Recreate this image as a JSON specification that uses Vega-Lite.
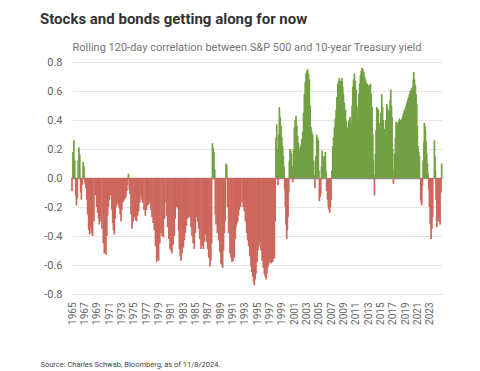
{
 "$schema": "https://vega.github.io/schema/vega-lite/v6.json",
 "width": 370, "height": 232,
 "autosize": "none",
 "padding": {"left": 72, "top": 62, "right": 38, "bottom": 77},
 "background": "white",
 "title": {"text": "Stocks and bonds getting along for now", "anchor": "start", "frame": "group", "dx": -32, "offset": 14, "font": "Roboto", "fontSize": 15, "fontWeight": "bold", "color": "#333333"},
 "config": {"view": {"stroke": null}},
 "data": {"values": [
{"year":1965.0,"corr":-0.09},{"year":1965.15,"corr":0.18},{"year":1965.3,"corr":0.26},{"year":1965.45,"corr":0.12},{"year":1965.6,"corr":-0.12},{"year":1965.72,"corr":-0.19},{"year":1965.86,"corr":-0.14},{"year":1966.0,"corr":0.12},{"year":1966.12,"corr":0.21},{"year":1966.26,"corr":0.16},{"year":1966.4,"corr":-0.10},{"year":1966.52,"corr":-0.15},{"year":1966.66,"corr":-0.05},{"year":1966.8,"corr":0.11},{"year":1966.95,"corr":0.08},{"year":1967.1,"corr":-0.04},{"year":1967.26,"corr":-0.07},{"year":1967.4,"corr":-0.15},{"year":1967.53,"corr":-0.25},{"year":1967.7,"corr":-0.36},{"year":1967.88,"corr":-0.39},{"year":1968.05,"corr":-0.35},{"year":1968.2,"corr":-0.38},{"year":1968.34,"corr":-0.40},{"year":1968.56,"corr":-0.30},{"year":1968.78,"corr":-0.12},{"year":1969.0,"corr":-0.20},{"year":1969.15,"corr":-0.24},{"year":1969.3,"corr":-0.28},{"year":1969.42,"corr":-0.32},{"year":1969.64,"corr":-0.30},{"year":1969.86,"corr":-0.35},{"year":1970.07,"corr":-0.45},{"year":1970.23,"corr":-0.52},{"year":1970.38,"corr":-0.50},{"year":1970.5,"corr":-0.53},{"year":1970.64,"corr":-0.40},{"year":1970.78,"corr":-0.26},{"year":1970.92,"corr":-0.20},{"year":1971.05,"corr":-0.15},{"year":1971.2,"corr":-0.12},{"year":1971.32,"corr":-0.09},{"year":1971.46,"corr":-0.22},{"year":1971.59,"corr":-0.31},{"year":1971.72,"corr":-0.36},{"year":1971.86,"corr":-0.39},{"year":1972.0,"corr":-0.28},{"year":1972.13,"corr":-0.20},{"year":1972.27,"corr":-0.18},{"year":1972.4,"corr":-0.16},{"year":1972.54,"corr":-0.19},{"year":1972.67,"corr":-0.21},{"year":1972.8,"corr":-0.25},{"year":1972.94,"corr":-0.30},{"year":1973.07,"corr":-0.22},{"year":1973.2,"corr":-0.17},{"year":1973.34,"corr":-0.16},{"year":1973.48,"corr":-0.15},{"year":1973.62,"corr":-0.14},{"year":1973.75,"corr":-0.13},{"year":1973.88,"corr":-0.09},{"year":1974.0,"corr":-0.05},{"year":1974.15,"corr":0.03},{"year":1974.28,"corr":-0.08},{"year":1974.4,"corr":-0.11},{"year":1974.56,"corr":-0.25},{"year":1974.72,"corr":-0.35},{"year":1974.9,"corr":-0.30},{"year":1975.1,"corr":-0.27},{"year":1975.3,"corr":-0.29},{"year":1975.47,"corr":-0.30},{"year":1975.63,"corr":-0.26},{"year":1975.8,"corr":-0.23},{"year":1976.0,"corr":-0.17},{"year":1976.18,"corr":-0.12},{"year":1976.32,"corr":-0.15},{"year":1976.45,"corr":-0.17},{"year":1976.66,"corr":-0.22},{"year":1976.88,"corr":-0.26},{"year":1977.07,"corr":-0.22},{"year":1977.26,"corr":-0.19},{"year":1977.45,"corr":-0.18},{"year":1977.63,"corr":-0.17},{"year":1977.8,"corr":-0.22},{"year":1977.96,"corr":-0.27},{"year":1978.15,"corr":-0.31},{"year":1978.34,"corr":-0.36},{"year":1978.53,"corr":-0.47},{"year":1978.72,"corr":-0.58},{"year":1978.88,"corr":-0.56},{"year":1979.04,"corr":-0.57},{"year":1979.23,"corr":-0.45},{"year":1979.42,"corr":-0.38},{"year":1979.6,"corr":-0.40},{"year":1979.8,"corr":-0.41},{"year":1980.0,"corr":-0.28},{"year":1980.23,"corr":-0.17},{"year":1980.36,"corr":-0.26},{"year":1980.5,"corr":-0.34},{"year":1980.7,"corr":-0.42},{"year":1980.88,"corr":-0.49},{"year":1981.04,"corr":-0.50},{"year":1981.2,"corr":-0.52},{"year":1981.4,"corr":-0.46},{"year":1981.58,"corr":-0.40},{"year":1981.72,"corr":-0.28},{"year":1981.85,"corr":-0.19},{"year":1982.0,"corr":-0.20},{"year":1982.13,"corr":-0.21},{"year":1982.27,"corr":-0.36},{"year":1982.4,"corr":-0.49},{"year":1982.53,"corr":-0.54},{"year":1982.66,"corr":-0.57},{"year":1982.85,"corr":-0.52},{"year":1983.04,"corr":-0.48},{"year":1983.2,"corr":-0.43},{"year":1983.36,"corr":-0.38},{"year":1983.55,"corr":-0.33},{"year":1983.74,"corr":-0.28},{"year":1983.93,"corr":-0.27},{"year":1984.12,"corr":-0.27},{"year":1984.28,"corr":-0.34},{"year":1984.44,"corr":-0.40},{"year":1984.62,"corr":-0.45},{"year":1984.82,"corr":-0.49},{"year":1985.0,"corr":-0.38},{"year":1985.2,"corr":-0.27},{"year":1985.36,"corr":-0.30},{"year":1985.52,"corr":-0.35},{"year":1985.7,"corr":-0.42},{"year":1985.9,"corr":-0.49},{"year":1986.1,"corr":-0.47},{"year":1986.28,"corr":-0.49},{"year":1986.44,"corr":-0.44},{"year":1986.6,"corr":-0.39},{"year":1986.8,"corr":-0.44},{"year":1986.98,"corr":-0.49},{"year":1987.16,"corr":-0.55},{"year":1987.36,"corr":-0.61},{"year":1987.5,"corr":-0.57},{"year":1987.62,"corr":-0.45},{"year":1987.76,"corr":0.24},{"year":1987.88,"corr":0.21},{"year":1988.0,"corr":0.18},{"year":1988.12,"corr":0.06},{"year":1988.22,"corr":-0.25},{"year":1988.34,"corr":-0.32},{"year":1988.55,"corr":-0.38},{"year":1988.77,"corr":-0.43},{"year":1988.95,"corr":-0.51},{"year":1989.14,"corr":-0.59},{"year":1989.28,"corr":-0.60},{"year":1989.41,"corr":-0.62},{"year":1989.55,"corr":-0.50},{"year":1989.68,"corr":-0.38},{"year":1989.82,"corr":-0.30},{"year":1989.95,"corr":0.10},{"year":1990.08,"corr":0.09},{"year":1990.2,"corr":-0.20},{"year":1990.38,"corr":-0.38},{"year":1990.6,"corr":-0.52},{"year":1990.76,"corr":-0.55},{"year":1990.92,"corr":-0.58},{"year":1991.1,"corr":-0.57},{"year":1991.3,"corr":-0.55},{"year":1991.45,"corr":-0.42},{"year":1991.57,"corr":-0.34},{"year":1991.7,"corr":-0.32},{"year":1991.84,"corr":-0.30},{"year":1991.98,"corr":-0.26},{"year":1992.11,"corr":-0.22},{"year":1992.3,"corr":-0.20},{"year":1992.55,"corr":-0.17},{"year":1992.75,"corr":-0.20},{"year":1992.92,"corr":-0.23},{"year":1993.1,"corr":-0.30},{"year":1993.3,"corr":-0.38},{"year":1993.46,"corr":-0.43},{"year":1993.63,"corr":-0.47},{"year":1993.82,"corr":-0.54},{"year":1994.0,"corr":-0.61},{"year":1994.14,"corr":-0.65},{"year":1994.28,"corr":-0.68},{"year":1994.42,"corr":-0.72},{"year":1994.54,"corr":-0.74},{"year":1994.68,"corr":-0.70},{"year":1994.81,"corr":-0.66},{"year":1995.0,"corr":-0.58},{"year":1995.15,"corr":-0.50},{"year":1995.3,"corr":-0.47},{"year":1995.45,"corr":-0.44},{"year":1995.62,"corr":-0.50},{"year":1995.8,"corr":-0.57},{"year":1996.0,"corr":-0.62},{"year":1996.17,"corr":-0.66},{"year":1996.3,"corr":-0.68},{"year":1996.44,"corr":-0.70},{"year":1996.58,"corr":-0.66},{"year":1996.71,"corr":-0.62},{"year":1996.85,"corr":-0.60},{"year":1996.98,"corr":-0.57},{"year":1997.1,"corr":-0.58},{"year":1997.25,"corr":-0.59},{"year":1997.38,"corr":-0.58},{"year":1997.52,"corr":-0.58},{"year":1997.66,"corr":-0.56},{"year":1997.79,"corr":-0.55},{"year":1997.92,"corr":-0.30},{"year":1998.05,"corr":0.28},{"year":1998.17,"corr":0.37},{"year":1998.28,"corr":0.20},{"year":1998.38,"corr":-0.05},{"year":1998.5,"corr":0.30},{"year":1998.6,"corr":0.49},{"year":1998.74,"corr":0.42},{"year":1998.87,"corr":0.36},{"year":1999.0,"corr":0.28},{"year":1999.14,"corr":0.22},{"year":1999.25,"corr":0.15},{"year":1999.36,"corr":0.08},{"year":1999.46,"corr":-0.08},{"year":1999.57,"corr":-0.20},{"year":1999.68,"corr":-0.32},{"year":1999.79,"corr":-0.42},{"year":1999.9,"corr":-0.36},{"year":2000.0,"corr":-0.27},{"year":2000.12,"corr":-0.10},{"year":2000.22,"corr":0.12},{"year":2000.33,"corr":0.20},{"year":2000.44,"corr":0.19},{"year":2000.55,"corr":0.17},{"year":2000.66,"corr":0.08},{"year":2000.76,"corr":-0.03},{"year":2000.9,"corr":0.20},{"year":2001.03,"corr":0.35},{"year":2001.16,"corr":0.40},{"year":2001.3,"corr":0.43},{"year":2001.44,"corr":0.36},{"year":2001.57,"corr":0.29},{"year":2001.7,"corr":0.24},{"year":2001.84,"corr":0.19},{"year":2001.98,"corr":0.21},{"year":2002.11,"corr":0.23},{"year":2002.24,"corr":0.27},{"year":2002.38,"corr":0.32},{"year":2002.52,"corr":0.45},{"year":2002.65,"corr":0.58},{"year":2002.78,"corr":0.66},{"year":2002.92,"corr":0.72},{"year":2003.05,"corr":0.74},{"year":2003.19,"corr":0.75},{"year":2003.32,"corr":0.72},{"year":2003.46,"corr":0.68},{"year":2003.6,"corr":0.50},{"year":2003.73,"corr":0.35},{"year":2003.86,"corr":0.32},{"year":2004.0,"corr":0.30},{"year":2004.16,"corr":0.12},{"year":2004.27,"corr":0.02},{"year":2004.38,"corr":-0.07},{"year":2004.5,"corr":0.15},{"year":2004.65,"corr":0.30},{"year":2004.78,"corr":0.28},{"year":2004.92,"corr":0.26},{"year":2005.0,"corr":0.05},{"year":2005.08,"corr":-0.16},{"year":2005.2,"corr":-0.13},{"year":2005.3,"corr":-0.11},{"year":2005.42,"corr":0.08},{"year":2005.52,"corr":0.19},{"year":2005.65,"corr":0.15},{"year":2005.79,"corr":0.12},{"year":2005.92,"corr":0.15},{"year":2006.06,"corr":0.18},{"year":2006.16,"corr":0.05},{"year":2006.27,"corr":-0.09},{"year":2006.4,"corr":-0.15},{"year":2006.54,"corr":-0.20},{"year":2006.65,"corr":-0.22},{"year":2006.76,"corr":-0.24},{"year":2006.87,"corr":-0.20},{"year":2006.98,"corr":-0.15},{"year":2007.1,"corr":0.05},{"year":2007.25,"corr":0.22},{"year":2007.38,"corr":0.28},{"year":2007.52,"corr":0.35},{"year":2007.66,"corr":0.41},{"year":2007.79,"corr":0.47},{"year":2007.92,"corr":0.56},{"year":2008.06,"corr":0.65},{"year":2008.2,"corr":0.67},{"year":2008.33,"corr":0.69},{"year":2008.46,"corr":0.67},{"year":2008.6,"corr":0.65},{"year":2008.68,"corr":0.67},{"year":2008.76,"corr":0.69},{"year":2008.87,"corr":0.63},{"year":2008.98,"corr":0.58},{"year":2009.14,"corr":0.52},{"year":2009.3,"corr":0.47},{"year":2009.44,"corr":0.39},{"year":2009.57,"corr":0.31},{"year":2009.7,"corr":0.35},{"year":2009.84,"corr":0.39},{"year":2009.95,"corr":0.40},{"year":2010.05,"corr":0.42},{"year":2010.16,"corr":0.38},{"year":2010.27,"corr":0.35},{"year":2010.38,"corr":0.50},{"year":2010.49,"corr":0.63},{"year":2010.62,"corr":0.68},{"year":2010.76,"corr":0.72},{"year":2010.9,"corr":0.67},{"year":2011.03,"corr":0.61},{"year":2011.14,"corr":0.50},{"year":2011.24,"corr":0.38},{"year":2011.35,"corr":0.48},{"year":2011.46,"corr":0.58},{"year":2011.6,"corr":0.65},{"year":2011.73,"corr":0.71},{"year":2011.86,"corr":0.74},{"year":2012.0,"corr":0.76},{"year":2012.14,"corr":0.75},{"year":2012.27,"corr":0.73},{"year":2012.4,"corr":0.70},{"year":2012.54,"corr":0.68},{"year":2012.68,"corr":0.66},{"year":2012.81,"corr":0.65},{"year":2012.95,"corr":0.64},{"year":2013.08,"corr":0.63},{"year":2013.22,"corr":0.64},{"year":2013.35,"corr":0.65},{"year":2013.48,"corr":0.58},{"year":2013.62,"corr":0.49},{"year":2013.74,"corr":0.30},{"year":2013.84,"corr":0.12},{"year":2013.92,"corr":0.0},{"year":2014.0,"corr":-0.12},{"year":2014.08,"corr":0.02},{"year":2014.16,"corr":0.17},{"year":2014.27,"corr":0.33},{"year":2014.38,"corr":0.49},{"year":2014.52,"corr":0.48},{"year":2014.65,"corr":0.47},{"year":2014.78,"corr":0.38},{"year":2014.92,"corr":0.31},{"year":2015.05,"corr":0.45},{"year":2015.19,"corr":0.58},{"year":2015.32,"corr":0.49},{"year":2015.46,"corr":0.40},{"year":2015.6,"corr":0.34},{"year":2015.73,"corr":0.29},{"year":2015.86,"corr":0.40},{"year":2016.0,"corr":0.51},{"year":2016.1,"corr":0.49},{"year":2016.21,"corr":0.47},{"year":2016.32,"corr":0.46},{"year":2016.43,"corr":0.46},{"year":2016.54,"corr":0.54},{"year":2016.65,"corr":0.61},{"year":2016.76,"corr":0.50},{"year":2016.86,"corr":0.42},{"year":2016.97,"corr":0.20},{"year":2017.08,"corr":-0.04},{"year":2017.18,"corr":0.06},{"year":2017.29,"corr":0.17},{"year":2017.4,"corr":0.28},{"year":2017.51,"corr":0.39},{"year":2017.64,"corr":0.38},{"year":2017.78,"corr":0.37},{"year":2017.92,"corr":0.39},{"year":2018.05,"corr":0.41},{"year":2018.18,"corr":0.40},{"year":2018.32,"corr":0.39},{"year":2018.46,"corr":0.41},{"year":2018.59,"corr":0.43},{"year":2018.72,"corr":0.45},{"year":2018.86,"corr":0.47},{"year":2019.0,"corr":0.48},{"year":2019.13,"corr":0.50},{"year":2019.27,"corr":0.52},{"year":2019.4,"corr":0.54},{"year":2019.54,"corr":0.56},{"year":2019.67,"corr":0.58},{"year":2019.8,"corr":0.60},{"year":2019.94,"corr":0.61},{"year":2020.08,"corr":0.62},{"year":2020.21,"corr":0.63},{"year":2020.3,"corr":0.68},{"year":2020.37,"corr":0.73},{"year":2020.5,"corr":0.68},{"year":2020.64,"corr":0.64},{"year":2020.75,"corr":0.58},{"year":2020.86,"corr":0.51},{"year":2020.96,"corr":0.36},{"year":2021.07,"corr":0.22},{"year":2021.18,"corr":0.18},{"year":2021.29,"corr":0.15},{"year":2021.4,"corr":0.0},{"year":2021.51,"corr":-0.15},{"year":2021.59,"corr":-0.17},{"year":2021.67,"corr":-0.19},{"year":2021.78,"corr":-0.05},{"year":2021.89,"corr":0.12},{"year":2022.0,"corr":0.25},{"year":2022.1,"corr":0.38},{"year":2022.18,"corr":0.36},{"year":2022.26,"corr":0.33},{"year":2022.37,"corr":0.25},{"year":2022.48,"corr":0.17},{"year":2022.59,"corr":0.10},{"year":2022.7,"corr":0.03},{"year":2022.8,"corr":-0.08},{"year":2022.91,"corr":-0.20},{"year":2023.04,"corr":-0.32},{"year":2023.18,"corr":-0.42},{"year":2023.32,"corr":-0.35},{"year":2023.45,"corr":-0.27},{"year":2023.58,"corr":0.0},{"year":2023.72,"corr":0.26},{"year":2023.8,"corr":0.15},{"year":2023.88,"corr":0.05},{"year":2023.98,"corr":-0.15},{"year":2024.1,"corr":-0.34},{"year":2024.24,"corr":-0.30},{"year":2024.37,"corr":-0.27},{"year":2024.5,"corr":-0.30},{"year":2024.64,"corr":-0.32},{"year":2024.8,"corr":-0.10},{"year":2024.9,"corr":0.10}
 ]},
 "mark": {"type": "rule", "strokeWidth": 1.7},
 "encoding": {
  "x": {"field": "year", "type": "quantitative",
    "scale": {"domain": [1965, 2024.95], "nice": false, "zero": false},
    "axis": {"values": [1965,1967,1969,1971,1973,1975,1977,1979,1981,1983,1985,1987,1989,1991,1993,1995,1997,1999,2001,2003,2005,2007,2009,2011,2013,2015,2017,2019,2021,2023],
      "format": "d", "labelAngle": -90, "labelAlign": "right", "labelBaseline": "middle", "labelPadding": 8, "ticks": false, "grid": false,
      "domainColor": "#e4e4e4", "labelFont": "Roboto", "labelFontSize": 10, "labelColor": "#666666", "labelOverlap": false, "labelFlush": false,
      "title": "Source: Charles Schwab, Bloomberg, as of 11/8/2024.", "titleX": -32, "titleY": 70, "titleAlign": "left", "titleBaseline": "middle", "titleAnchor": "start",
      "titleFont": "Roboto", "titleFontSize": 7.5, "titleFontWeight": "normal", "titleColor": "#444444"}},
  "y": {"field": "corr", "type": "quantitative",
    "scale": {"domain": [-0.8, 0.8], "nice": false},
    "axis": {"values": [-0.8,-0.6,-0.4,-0.2,0,0.2,0.4,0.6,0.8],
      "labelExpr": "replace(format(datum.value, '.1f'), '\u2212', '-')",
      "domain": false, "ticks": false, "labelPadding": 10, "labelOverlap": false,
      "gridColor": {"condition": {"test": "datum.value === 0", "value": "#8a8a8a"}, "value": "#e6e6e6"},
      "gridWidth": {"condition": {"test": "datum.value === 0", "value": 1.5}, "value": 1},
      "zindex": 0,
      "labelFont": "Roboto", "labelFontSize": 11, "labelColor": "#666666",
      "title": "Rolling 120-day correlation between S&P 500 and 10-year Treasury yield",
      "titleAngle": 0, "titleX": 0, "titleY": -15, "titleAlign": "left", "titleBaseline": "middle",
      "titleFont": "Roboto", "titleFontSize": 11, "titleFontWeight": "normal", "titleColor": "#777777"}},
  "y2": {"datum": 0},
  "color": {"condition": {"test": "datum.corr >= 0", "value": "#72a043"}, "value": "#cd675c"}
 }
}
